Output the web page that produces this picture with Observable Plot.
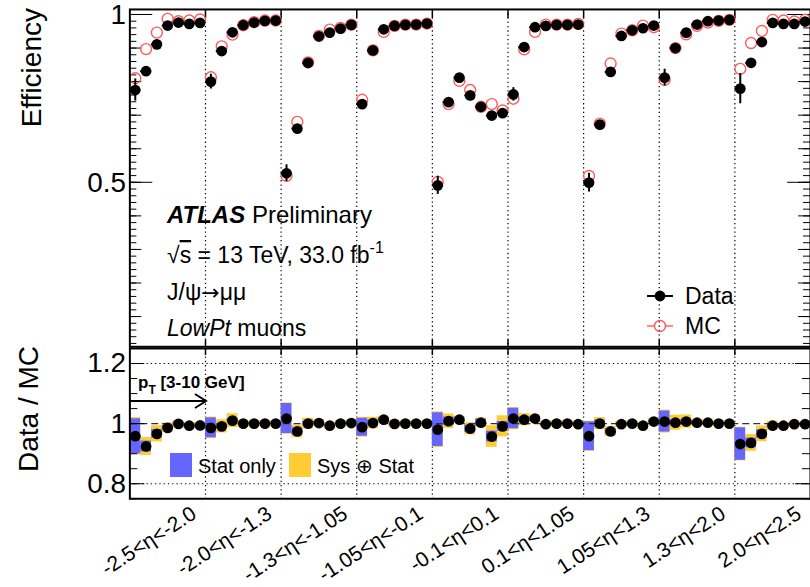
<!DOCTYPE html>
<html><head><meta charset="utf-8">
<script src="https://cdn.jsdelivr.net/npm/d3@7"></script>
<script src="https://cdn.jsdelivr.net/npm/@observablehq/plot@0.6"></script>
<style>
body{margin:0;background:#fff;}
#wrap{position:relative;width:810px;height:587px;overflow:hidden;font-family:"Liberation Sans",Arial,Helvetica,sans-serif;}
#wrap svg{position:absolute;left:0;overflow:visible;}
</style></head><body><div id="wrap"></div>
<script>
// ---- data ----
const regions = ["-2.5<η<-2.0","-2.0<η<-1.3","-1.3<η<-1.05","-1.05<η<-0.1","-0.1<η<0.1","0.1<η<1.05","1.05<η<1.3","1.3<η<2.0","2.0<η<2.5"];
const binsPerRegion = 7;
const effData = [
  0.775,0.831,0.911,0.967,0.976,0.972,0.975,
  0.800,0.891,0.947,0.968,0.976,0.981,0.982,
  0.527,0.660,0.856,0.935,0.946,0.958,0.969,
  0.733,0.893,0.956,0.966,0.969,0.970,0.973,
  0.491,0.739,0.812,0.759,0.725,0.699,0.706,
  0.762,0.903,0.962,0.966,0.969,0.969,0.970,
  0.499,0.672,0.829,0.936,0.953,0.959,0.967,
  0.812,0.900,0.946,0.970,0.980,0.982,0.984,
  0.779,0.856,0.918,0.975,0.972,0.972,0.979];
const effDataErr = [
  0.033,0.006,0.004,0.003,0.003,0.003,0.003,
  0.022,0.006,0.004,0.003,0.003,0.003,0.003,
  0.025,0.008,0.004,0.003,0.003,0.003,0.003,
  0.012,0.005,0.003,0.003,0.003,0.003,0.003,
  0.027,0.008,0.005,0.005,0.005,0.005,0.005,
  0.020,0.006,0.003,0.003,0.003,0.003,0.003,
  0.028,0.008,0.005,0.003,0.003,0.003,0.003,
  0.025,0.006,0.004,0.003,0.003,0.003,0.003,
  0.045,0.008,0.006,0.003,0.003,0.003,0.003];
const effMC = [
  0.810,0.897,0.946,0.987,0.980,0.982,0.985,
  0.813,0.905,0.940,0.968,0.977,0.982,0.982,
  0.519,0.680,0.857,0.936,0.955,0.960,0.970,
  0.746,0.893,0.948,0.966,0.970,0.970,0.973,
  0.501,0.733,0.802,0.775,0.725,0.733,0.714,
  0.749,0.896,0.948,0.970,0.970,0.970,0.972,
  0.519,0.675,0.854,0.943,0.953,0.967,0.962,
  0.805,0.900,0.941,0.966,0.976,0.981,0.984,
  0.838,0.915,0.951,0.984,0.982,0.979,0.984];
const ratio = [
  0.958,0.924,0.966,0.986,0.999,0.993,0.994,
  0.986,0.991,1.010,1.000,1.000,1.000,1.000,
  1.017,0.974,1.000,1.002,0.993,1.000,1.002,
  0.988,1.002,1.013,0.999,1.000,1.000,1.000,
  0.980,1.008,1.013,0.983,1.003,0.957,0.991,
  1.017,1.013,1.017,0.998,1.000,1.000,0.998,
  0.958,1.000,0.974,0.998,1.000,0.993,1.007,
  1.007,1.003,1.007,1.003,1.003,1.000,1.000,
  0.932,0.936,0.966,0.993,0.993,0.998,0.998];
const ratioStat = [
  0.058,0.018,0.014,0.008,0.005,0.005,0.005,
  0.033,0.010,0.008,0.004,0.004,0.004,0.004,
  0.050,0.012,0.008,0.005,0.004,0.004,0.004,
  0.030,0.010,0.006,0.004,0.004,0.004,0.004,
  0.056,0.014,0.008,0.012,0.012,0.018,0.016,
  0.034,0.010,0.006,0.004,0.004,0.004,0.004,
  0.048,0.012,0.009,0.005,0.004,0.004,0.004,
  0.035,0.010,0.008,0.004,0.004,0.004,0.004,
  0.054,0.016,0.014,0.006,0.004,0.004,0.004];
const ratioTot = [
  0.062,0.030,0.027,0.016,0.011,0.010,0.010,
  0.036,0.022,0.023,0.011,0.010,0.010,0.010,
  0.052,0.021,0.018,0.011,0.010,0.010,0.010,
  0.033,0.019,0.012,0.011,0.010,0.010,0.010,
  0.059,0.024,0.012,0.020,0.015,0.036,0.035,
  0.037,0.020,0.012,0.010,0.010,0.010,0.010,
  0.050,0.020,0.017,0.010,0.010,0.012,0.010,
  0.038,0.025,0.022,0.011,0.010,0.010,0.010,
  0.056,0.028,0.026,0.015,0.010,0.010,0.010];
const effTickLabels = [0.5, 1];
const ratioTickLabels = [1.2, 1, 0.8];

// ---- build ----
const nBins = regions.length * binsPerRegion;
const rows = effData.map((d, i) => ({i, x: i + 0.5, data: d, err: effDataErr[i], mc: effMC[i], r: ratio[i], s: ratioStat[i], t: ratioTot[i]}));
const bounds = d3.range(1, regions.length).map(k => k * binsPerRegion);
const FONT = "Liberation Sans, Arial, Helvetica, sans-serif";
const RED = "#ff5a5a", BLUE = "#6666ff", YEL = "#ffcc33";
const W = 814, ML = 130, FW = W - ML;
const dotted = {stroke: "#000", strokeWidth: 1.2, strokeDasharray: "1.3,3"};

// top panel
const topH = 348, topMT = 9, topFH = topH - topMT;
const minorE = d3.range(0.02, 1.015, 0.02).map(v => +v.toFixed(2));
const midE = d3.range(0.1, 1.01, 0.1).map(v => +v.toFixed(1));
const topPlot = Plot.plot({
  width: W, height: topH, marginTop: topMT, marginBottom: 0, marginLeft: ML, marginRight: 0,
  style: {fontFamily: FONT, background: "transparent"},
  x: {domain: [0, nBins], axis: null},
  y: {domain: [0.01, 1.015], axis: null},
  marks: [
    Plot.ruleX(bounds, dotted),
    Plot.tickY(minorE, {insetRight: FW - 7, stroke: "#000"}),
    Plot.tickY(midE, {insetRight: FW - 12, stroke: "#000"}),
    Plot.tickY(effTickLabels, {insetRight: FW - 23, stroke: "#000"}),
    Plot.tickY(minorE, {insetLeft: FW - 7, stroke: "#000"}),
    Plot.tickY(midE, {insetLeft: FW - 12, stroke: "#000"}),
    Plot.tickY(effTickLabels, {insetLeft: FW - 23, stroke: "#000"}),
    Plot.tickX(bounds, {insetBottom: topFH - 9, stroke: "#000", strokeWidth: 1.5}),
    Plot.tickX(bounds, {insetTop: topFH - 7, stroke: "#000", strokeWidth: 1.5}),
    Plot.dot(rows, {x: "x", y: "mc", r: 5.5, stroke: RED, strokeWidth: 1.4, fill: "none"}),
    Plot.ruleX(rows, {x: "x", y1: d => d.data - d.err, y2: d => d.data + d.err, stroke: "#000", strokeWidth: 2}),
    Plot.ruleY(rows, {y: "data", x1: d => d.x - 0.5, x2: d => d.x + 0.5, stroke: "#000", strokeWidth: 2}),
    Plot.dot(rows, {x: "x", y: "data", r: 5.4, fill: "#000"}),
    Plot.frame({stroke: "#000", strokeWidth: 2}),
    Plot.text(effTickLabels, {y: d => d, text: d => String(d), frameAnchor: "left", dx: -4, dy: 1, textAnchor: "end", fontSize: 28, fill: "#000"})
  ]
});
topPlot.style.top = "0px";

// bottom panel
const botH = 239, botMB = 88, botFH = botH - botMB;
const minorR = d3.range(0.75, 1.26, 0.05).map(v => +v.toFixed(2));
const botPlot = Plot.plot({
  width: W, height: botH, marginTop: 0, marginBottom: botMB, marginLeft: ML, marginRight: 0,
  style: {fontFamily: FONT, background: "transparent", overflow: "visible"},
  x: {domain: [0, nBins], axis: null},
  y: {domain: [0.75, 1.25], axis: null},
  marks: [
    Plot.ruleY([1.2, 0.8], dotted),
    Plot.ruleX(bounds, dotted),
    Plot.rect(rows, {x1: d => d.i, x2: d => d.i + 1, y1: d => d.r - d.t, y2: d => d.r + d.t, fill: YEL}),
    Plot.rect(rows, {x1: d => d.i, x2: d => d.i + 1, y1: d => d.r - d.s, y2: d => d.r + d.s, fill: BLUE}),
    Plot.ruleY([1], {stroke: "#333", strokeWidth: 1.5, strokeDasharray: "7,4"}),
    Plot.dot(rows, {x: "x", y: "r", r: 5.4, fill: "#000"}),
    Plot.tickY(minorR, {insetRight: FW - 8, stroke: "#000"}),
    Plot.tickY(ratioTickLabels, {insetRight: FW - 15, stroke: "#000"}),
    Plot.tickY(minorR, {insetLeft: FW - 8, stroke: "#000"}),
    Plot.tickY(ratioTickLabels, {insetLeft: FW - 15, stroke: "#000"}),
    Plot.tickX(bounds, {insetBottom: botFH - 7, stroke: "#000", strokeWidth: 1.5}),
    Plot.frame({stroke: "#000", strokeWidth: 2}),
    Plot.text(ratioTickLabels, {y: d => d, text: d => String(d), frameAnchor: "left", dx: -4, textAnchor: "end", fontSize: 28, fill: "#000"}),
    Plot.text(regions, {x: (d, i) => i * binsPerRegion + binsPerRegion / 2, text: d => d, frameAnchor: "bottom", dx: 22, dy: 6, rotate: -33, textAnchor: "end", lineAnchor: "top", fontSize: 21, fill: "#000"})
  ]
});
botPlot.style.top = "348px";

const wrap = document.getElementById("wrap");
wrap.appendChild(topPlot);
wrap.appendChild(botPlot);

// annotations overlay
const ov = `
<svg width="810" height="587" style="top:0;left:0;pointer-events:none" font-family="${FONT}">
  <text transform="translate(41,8) rotate(-90)" text-anchor="end" font-size="28">Efficiency</text>
  <text transform="translate(38,346) rotate(-90)" text-anchor="end" font-size="28">Data / MC</text>
  <text x="167" y="223" font-size="24"><tspan font-weight="bold" font-style="italic">ATLAS</tspan> Preliminary</text>
  <text x="167" y="263" font-size="23">√<tspan text-decoration="overline">s</tspan> = 13 TeV, 33.0 fb<tspan font-size="16" dy="-10">-1</tspan></text>
  <text x="167" y="300" font-size="23">J/ψ<tspan font-family="DejaVu Sans" font-size="22">→</tspan>μμ</text>
  <text x="167" y="336" font-size="23"><tspan font-style="italic">LowPt</tspan> muons</text>
  <line x1="647" x2="673" y1="296" y2="296" stroke="#000" stroke-width="2"/>
  <circle cx="660" cy="296" r="5.4" fill="#000"/>
  <text x="685" y="304" font-size="23">Data</text>
  <line x1="647" x2="654.5" y1="326" y2="326" stroke="${RED}" stroke-width="1.4"/>
  <line x1="665.5" x2="673" y1="326" y2="326" stroke="${RED}" stroke-width="1.4"/>
  <circle cx="660" cy="326" r="5.5" fill="none" stroke="${RED}" stroke-width="1.4"/>
  <text x="685" y="334" font-size="23">MC</text>
  <text x="138" y="388" font-size="17" font-weight="bold">p<tspan font-size="12" dy="6">T</tspan><tspan dy="-6"> [3-10 GeV]</tspan></text>
  <line x1="130" x2="206" y1="401" y2="401" stroke="#000" stroke-width="2"/>
  <polyline points="195,394 206,401 195,408" fill="none" stroke="#000" stroke-width="2"/>
  <rect x="170" y="453" width="22" height="24" fill="${BLUE}"/>
  <text x="198" y="473" font-size="20">Stat only</text>
  <rect x="289" y="453" width="22" height="24" fill="${YEL}"/>
  <text x="317" y="473" font-size="20">Sys ⊕ Stat</text>
</svg>`;
wrap.insertAdjacentHTML("beforeend", ov);
</script></body></html>
